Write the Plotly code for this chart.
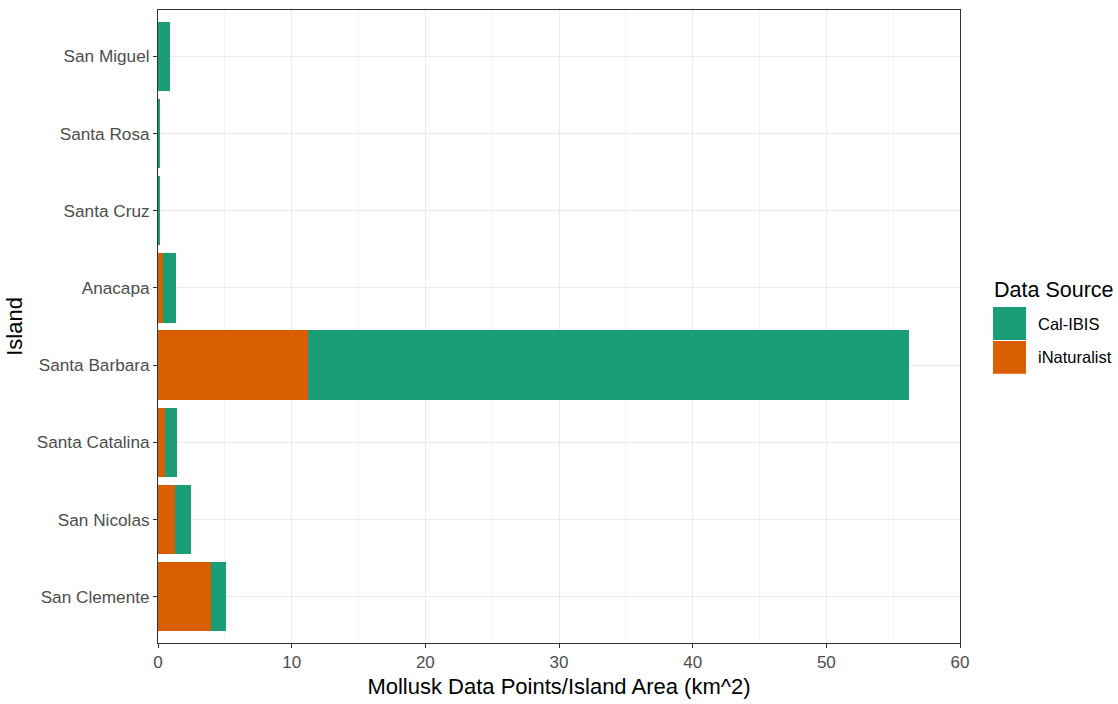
import plotly.graph_objects as go

# Mollusk data points per island area (km^2), split by data source
islands = ["San Miguel", "Santa Rosa", "Santa Cruz", "Anacapa",
           "Santa Barbara", "Santa Catalina", "San Nicolas", "San Clemente"]
inaturalist = [0.0, 0.02, 0.02, 0.35, 11.2, 0.52, 1.3, 4.0]
cal_ibis = [0.9, 0.1, 0.1, 0.97, 45.0, 0.9, 1.2, 1.1]

x_ticks = [0, 10, 20, 30, 40, 50, 60]

GREEN = "#1B9E77"
ORANGE = "#D95F02"
FONT = "Liberation Sans, Arial, sans-serif"

W, H = 1118, 704
L, R, T, B = 158, 158, 9, 60

fig = go.Figure()
fig.add_trace(go.Bar(y=islands, x=inaturalist, orientation="h", name="iNaturalist",
                     marker=dict(color=ORANGE, line=dict(width=0)), width=0.9,
                     showlegend=False))
fig.add_trace(go.Bar(y=islands, x=cal_ibis, orientation="h", name="Cal-IBIS",
                     marker=dict(color=GREEN, line=dict(width=0)), width=0.9,
                     showlegend=False))

# legend drawn as ggplot-style key boxes
pw, ph = W - L - R, H - T - B
def px(xp):
    return (xp - L) / pw
def py(yp):
    return (H - B - yp) / ph

shapes = []
annotations = []
keys = [("Cal-IBIS", GREEN, 307), ("iNaturalist", ORANGE, 341)]
for label, col, ytop in keys:
    shapes.append(dict(type="rect", xref="paper", yref="paper",
                       x0=px(993), x1=px(1026), y0=py(ytop + 33), y1=py(ytop),
                       fillcolor=col, line=dict(width=0)))
    annotations.append(dict(text=label, xref="paper", yref="paper",
                            x=px(1036), y=py(ytop + 16.5), xanchor="left", yanchor="middle",
                            showarrow=False, font=dict(family=FONT, size=16.5, color="#000")))
annotations.append(dict(text="Data Source", xref="paper", yref="paper",
                        x=px(992), y=py(290), xanchor="left", yanchor="middle",
                        showarrow=False, font=dict(family=FONT, size=21.5, color="#000")))

fig.update_layout(
    barmode="stack",
    width=W, height=H,
    margin=dict(l=L, r=R, t=T, b=B, pad=0),
    paper_bgcolor="white", plot_bgcolor="white",
    font=dict(family=FONT),
    shapes=shapes, annotations=annotations,
    showlegend=False,
)
fig.update_xaxes(
    range=[0, 60], tickvals=x_ticks, ticktext=[str(v) for v in x_ticks],
    showgrid=True, gridcolor="#EBEBEB", gridwidth=1.1,
    minor=dict(dtick=5, tick0=5, showgrid=True, gridcolor="#F4F4F4", gridwidth=0.6),
    ticks="outside", ticklen=4, tickcolor="#333333", tickwidth=1,
    tickfont=dict(family=FONT, size=17, color="#4D4D4D"),
    showline=True, linecolor="#333333", linewidth=1, mirror=True,
    zeroline=False,
    title=dict(text="Mollusk Data Points/Island Area (km^2)",
               font=dict(family=FONT, size=22, color="#000"), standoff=7),
)
fig.update_yaxes(
    type="category", categoryorder="array", categoryarray=islands,
    range=[len(islands) - 1 + 0.6, -0.6],
    showgrid=True, gridcolor="#EBEBEB", gridwidth=1.1,
    ticks="outside", ticklen=4, tickcolor="#333333", tickwidth=1,
    tickfont=dict(family=FONT, size=17.2, color="#4D4D4D"),
    showline=True, linecolor="#333333", linewidth=1, mirror=True,
    zeroline=False,
    title=dict(text="Island", font=dict(family=FONT, size=22, color="#000"), standoff=8),
)

fig.write_html("out.html")
